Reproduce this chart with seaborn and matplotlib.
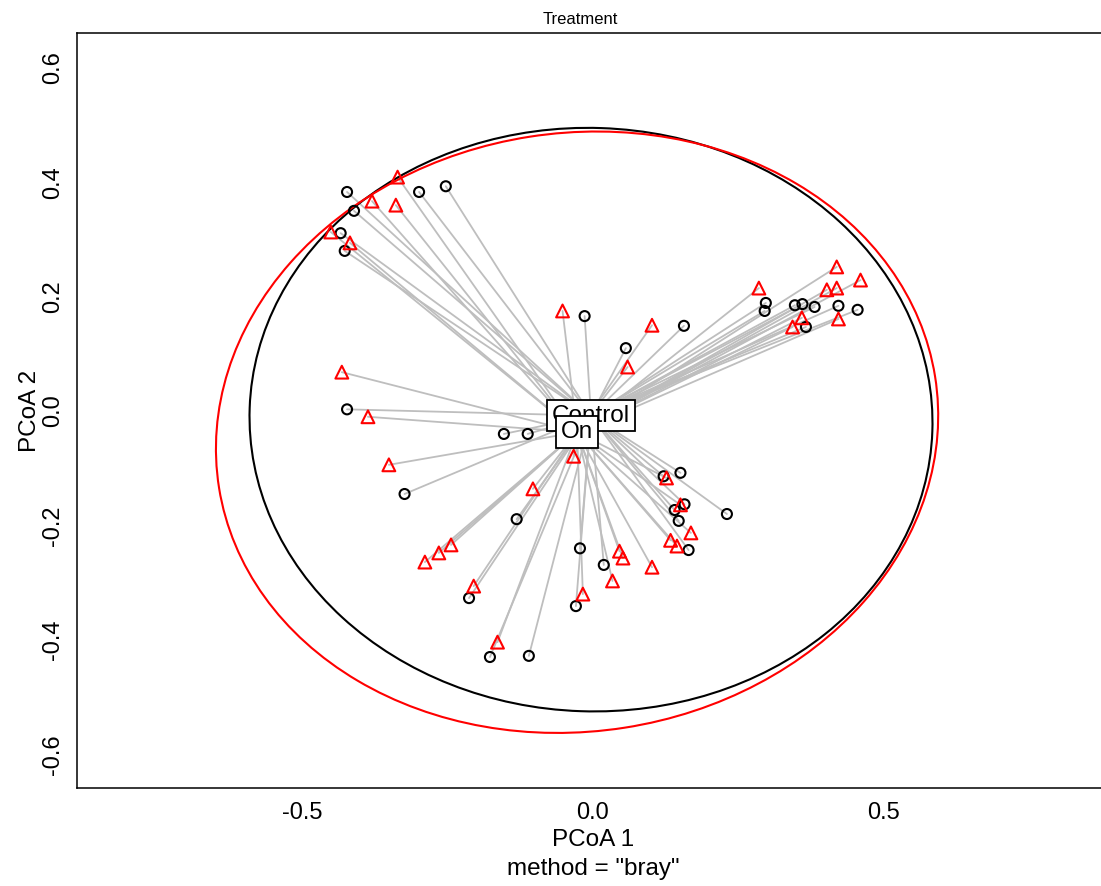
"""
PCoA ordination (Bray-Curtis) with spiders and ellipses by Treatment.
"""

import matplotlib
matplotlib.use("Agg")

import numpy as np
import pandas as pd
import matplotlib.pyplot as plt
from matplotlib.patches import Ellipse
import seaborn as sns


groups = ["Control", "On"]
group_colors = ["black", "red"]
group_markers = ["o", "^"]

control_x = [-0.423, -0.411, -0.299, -0.253, -0.434, -0.427, -0.014, 0.157,
             0.057, 0.298, 0.296, 0.348, 0.361, 0.382, 0.423, 0.456, 0.367,
             -0.423, -0.153, -0.112, -0.324, -0.131, 0.122, 0.151, 0.158,
             0.141, 0.148, 0.231, 0.165, -0.022, 0.019, -0.213, -0.029,
             -0.177, -0.110]
control_y = [0.383, 0.350, 0.383, 0.393, 0.311, 0.280, 0.166, 0.149,
             0.110, 0.189, 0.175, 0.185, 0.187, 0.182, 0.184, 0.177, 0.147,
             0.003, -0.040, -0.040, -0.145, -0.189, -0.114, -0.108, -0.163,
             -0.173, -0.192, -0.180, -0.243, -0.240, -0.269, -0.327, -0.341,
             -0.430, -0.428]

on_x = [-0.336, -0.380, -0.339, -0.451, -0.418, -0.052, 0.102, 0.060,
        0.286, 0.420, 0.461, 0.403, 0.420, 0.360, 0.344, 0.423, -0.432,
        -0.387, -0.351, -0.033, -0.103, 0.127, 0.151, 0.169, 0.134, 0.145,
        0.102, -0.244, -0.265, -0.289, -0.205, 0.046, 0.052, 0.034, -0.017,
        -0.164]
on_y = [0.409, 0.367, 0.360, 0.313, 0.294, 0.175, 0.150, 0.077,
        0.215, 0.252, 0.229, 0.212, 0.215, 0.163, 0.147, 0.161, 0.068,
        -0.010, -0.094, -0.079, -0.136, -0.117, -0.164, -0.213, -0.226,
        -0.236, -0.273, -0.234, -0.248, -0.264, -0.306, -0.245, -0.257,
        -0.297, -0.320, -0.404]

# group centroids (spider hubs and label positions)
centroid_x = [-0.003, -0.027]
centroid_y = [-0.008, -0.037]

# ellipse centres, full axes and rotation (degrees)
ellipse_cx = [-0.003, -0.027]
ellipse_cy = [-0.015, -0.037]
ellipse_width = [1.176, 1.248]
ellipse_height = [1.020, 1.046]
ellipse_angle = [-2.0, 9.0]

xtick_values = [-0.5, 0.0, 0.5]
xtick_labels = ["-0.5", "0.0", "0.5"]
ytick_values = [-0.6, -0.4, -0.2, 0.0, 0.2, 0.4, 0.6]
ytick_labels = ["-0.6", "-0.4", "-0.2", "0.0", "0.2", "0.4", "0.6"]


def build_frames():
    """Long tables of the points and of the spider segments."""
    points = pd.concat([
        pd.DataFrame({"x": control_x, "y": control_y, "group": "Control"}),
        pd.DataFrame({"x": on_x, "y": on_y, "group": "On"}),
    ], ignore_index=True)

    rows = []
    for idx, row in points.iterrows():
        g = groups.index(row["group"])
        rows.append({"seg": idx, "x": row["x"], "y": row["y"]})
        rows.append({"seg": idx, "x": centroid_x[g], "y": centroid_y[g]})
    spider = pd.DataFrame(rows)
    return points, spider


def main():
    sns.set_style("white")
    plt.rcParams["font.family"] = ["Liberation Sans", "DejaVu Sans"]
    plt.rcParams["axes.unicode_minus"] = False
    plt.rcParams["text.color"] = "black"
    plt.rcParams["axes.labelcolor"] = "black"

    points, spider = build_frames()

    fig = plt.figure(figsize=(11.01, 8.86), dpi=100)
    ax = fig.add_axes([0.0699, 0.1106, 0.938, 0.8522])

    sns.lineplot(data=spider, x="x", y="y", units="seg", estimator=None,
                 sort=False, color="#BEBEBE", linewidth=1.3, ax=ax,
                 legend=False, zorder=1)

    for g, name in enumerate(groups):
        sub = points[points["group"] == name]
        sns.scatterplot(data=sub, x="x", y="y", marker=group_markers[g],
                        s=52 if g == 0 else 85, facecolor="none",
                        edgecolor=group_colors[g], linewidth=1.5, ax=ax,
                        legend=False, zorder=3)

    for g in range(len(groups)):
        ax.add_patch(Ellipse((ellipse_cx[g], ellipse_cy[g]),
                             ellipse_width[g], ellipse_height[g],
                             angle=ellipse_angle[g], fill=False,
                             edgecolor=group_colors[g], linewidth=1.5,
                             zorder=2))

    for g, name in enumerate(groups):
        ax.text(centroid_x[g], centroid_y[g], name, ha="center", va="center",
                fontsize=17.5, zorder=5 + g,
                bbox=dict(boxstyle="square,pad=0.2", fc="white", ec="black",
                          lw=1.3))

    ax.set_xlim(-0.888, 0.890)
    ax.set_ylim(-0.659, 0.661)
    ax.set_xticks(xtick_values, xtick_labels)
    ax.set_yticks(ytick_values, ytick_labels)
    ax.tick_params(direction="out", length=5, width=1.1, labelsize=17,
                   color="black", labelcolor="black")
    ax.tick_params(axis="x", pad=5)
    ax.tick_params(axis="y", pad=4, labelrotation=90)
    for lab in ax.get_yticklabels():
        lab.set_va("center")
    for spine in ax.spines.values():
        spine.set_linewidth(1.1)
        spine.set_color("black")

    ax.set_xlabel('PCoA 1\nmethod = "bray"', fontsize=17.5, linespacing=1.4)
    ax.xaxis.label.set_va("top")
    ax.xaxis.set_label_coords(0.4995, -0.054)
    ax.set_ylabel("PCoA 2", fontsize=17.5)
    ax.yaxis.label.set_va("center")
    ax.yaxis.set_label_coords(-0.0455, 0.5)

    fig.text(580 / 1101, 1 - 20 / 886, "Treatment", ha="center", va="center",
             fontsize=12)

    fig.savefig("out.png", dpi=100)
    plt.close(fig)


if __name__ == "__main__":
    main()
